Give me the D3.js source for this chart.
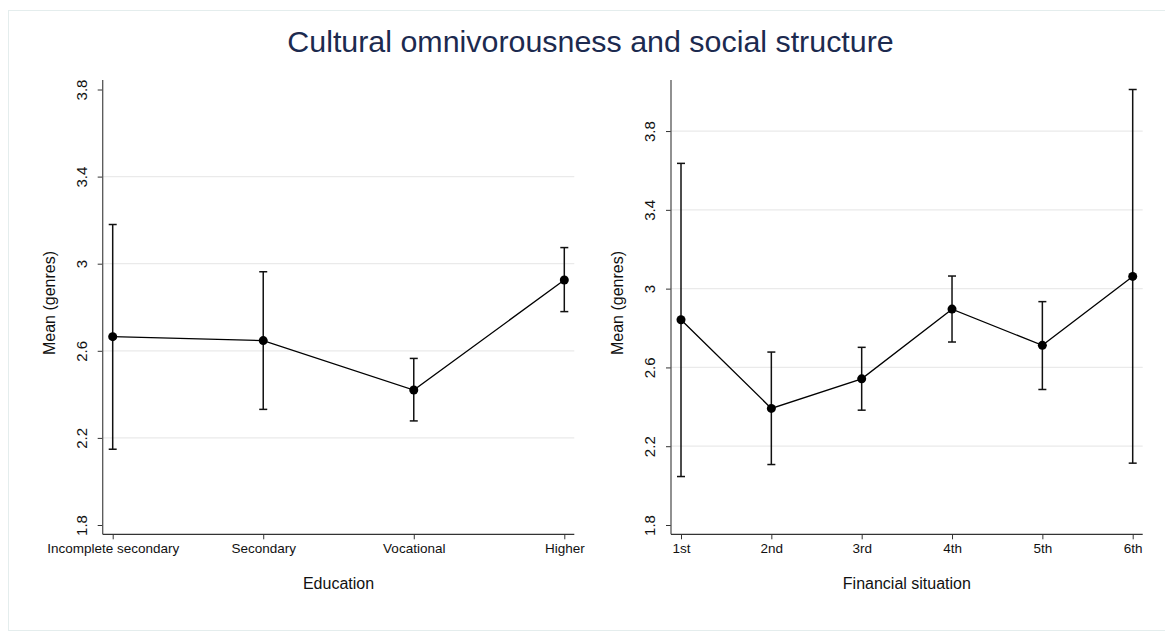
<!DOCTYPE html>
<html>
<head>
<meta charset="utf-8">
<script src="https://cdn.jsdelivr.net/npm/d3@7"></script>
<style>
  html, body { margin: 0; padding: 0; background: #fff; }
  svg { display: block; font-family: "Liberation Sans", Arial, sans-serif; }
</style>
</head>
<body>
<svg id="chart" width="1165" height="638"></svg>
<script>
// Mean number of genres with 95% confidence intervals, by education
const eduCategories = ["Incomplete secondary", "Secondary", "Vocational", "Higher"];
const eduMean  = [2.665, 2.647, 2.420, 2.925];
const eduLower = [2.148, 2.331, 2.278, 2.780];
const eduUpper = [3.180, 2.963, 2.565, 3.074];

// ... and by self-rated financial situation
const finCategories = ["1st", "2nd", "3rd", "4th", "5th", "6th"];
const finMean  = [2.842, 2.392, 2.542, 2.896, 2.712, 3.062];
const finLower = [2.046, 2.107, 2.383, 2.729, 2.488, 2.114];
const finUpper = [3.636, 2.678, 2.702, 3.064, 2.934, 4.011];

const yTicks = [1.8, 2.2, 2.6, 3.0, 3.4, 3.8];

const titleText = "Cultural omnivorousness and social structure";
const yTitle = "Mean (genres)";
const eduTitle = "Education";
const finTitle = "Financial situation";

const svg = d3.select("#chart");

// outer graph region frame
svg.append("rect")
  .attr("x", 8.5).attr("y", 10.5)
  .attr("width", 1170).attr("height", 620)
  .attr("fill", "#fff")
  .attr("stroke", "#e4eded")
  .attr("stroke-width", 1);

svg.append("text")
  .attr("x", 590.5).attr("y", 52)
  .attr("text-anchor", "middle")
  .attr("font-size", 30.4)
  .attr("fill", "#1c2a4f")
  .text(titleText);

function fmt(v) { return d3.format("~g")(v); }

function panel(opt) {
  const { cats, mean, lower, upper, left, right, xTitle } = opt;
  const top = 80, bottom = 534.3;
  const pad = 10;
  const innerTop = 89.5, innerBottom = 525;

  const yMax = Math.max(d3.max(upper), d3.max(yTicks));
  const yMin = Math.min(d3.min(lower), d3.min(yTicks));
  const y = d3.scaleLinear().domain([yMin, yMax]).range([innerBottom, innerTop]);
  const x = d3.scalePoint().domain(cats).range([left + pad, right - pad]);

  const g = svg.append("g");

  // horizontal gridlines at interior ticks
  g.selectAll("line.grid")
    .data(yTicks.filter(t => t > yMin + 1e-9 && t < yMax - 1e-9))
    .join("line")
    .attr("class", "grid")
    .attr("x1", left).attr("x2", right)
    .attr("y1", d => y(d)).attr("y2", d => y(d))
    .attr("stroke", "#eaeaea")
    .attr("stroke-width", 1.3);

  // y axis
  const yAxis = g.append("g")
    .attr("transform", `translate(${left},0)`)
    .call(d3.axisLeft(y).tickValues(yTicks).tickSize(5).tickFormat(fmt));
  yAxis.select(".domain").remove();
  yAxis.selectAll(".tick line").attr("stroke", "#333").attr("stroke-width", 1);
  yAxis.selectAll(".tick text")
    .attr("x", null).attr("dy", null)
    .attr("transform", "translate(-16,0) rotate(-90)")
    .attr("text-anchor", "middle")
    .attr("font-size", 15)
    .attr("font-family", "Liberation Sans, Arial, sans-serif")
    .attr("fill", "#111");
  g.append("line")
    .attr("x1", left).attr("x2", left)
    .attr("y1", top).attr("y2", bottom)
    .attr("stroke", "#555").attr("stroke-width", 1.3);

  // x axis
  const xAxis = g.append("g")
    .attr("transform", `translate(0,${bottom})`)
    .call(d3.axisBottom(x).tickSize(5));
  xAxis.select(".domain").remove();
  xAxis.selectAll(".tick line").attr("stroke", "#333").attr("stroke-width", 1);
  xAxis.selectAll(".tick text")
    .attr("y", 19).attr("dy", null)
    .attr("font-size", 13.5)
    .attr("font-family", "Liberation Sans, Arial, sans-serif")
    .attr("fill", "#111");
  g.append("line")
    .attr("x1", left).attr("x2", right)
    .attr("y1", bottom).attr("y2", bottom)
    .attr("stroke", "#333").attr("stroke-width", 1.2);

  // axis titles
  g.append("text")
    .attr("transform", `translate(${left - 48},303) rotate(-90)`)
    .attr("text-anchor", "middle")
    .attr("font-size", 16)
    .attr("fill", "#111")
    .text(yTitle);
  g.append("text")
    .attr("x", (left + right) / 2).attr("y", 589)
    .attr("text-anchor", "middle")
    .attr("font-size", 16)
    .attr("fill", "#111")
    .text(xTitle);

  const rows = cats.map((c, i) => ({ c, m: mean[i], lo: lower[i], hi: upper[i] }));

  // confidence intervals
  const ci = g.append("g").attr("stroke", "#111").attr("stroke-width", 1.5).attr("fill", "none");
  ci.selectAll("line.v").data(rows).join("line")
    .attr("x1", d => x(d.c)).attr("x2", d => x(d.c))
    .attr("y1", d => y(d.lo)).attr("y2", d => y(d.hi));
  ci.selectAll("line.capHi").data(rows).join("line")
    .attr("x1", d => x(d.c) - 4).attr("x2", d => x(d.c) + 4)
    .attr("y1", d => y(d.hi)).attr("y2", d => y(d.hi));
  ci.selectAll("line.capLo").data(rows).join("line")
    .attr("class", "capLo")
    .attr("x1", d => x(d.c) - 4).attr("x2", d => x(d.c) + 4)
    .attr("y1", d => y(d.lo)).attr("y2", d => y(d.lo));

  // connecting line through means
  g.append("path")
    .datum(rows)
    .attr("fill", "none")
    .attr("stroke", "#000")
    .attr("stroke-width", 1.3)
    .attr("d", d3.line().x(d => x(d.c)).y(d => y(d.m)));

  g.selectAll("circle.pt").data(rows).join("circle")
    .attr("cx", d => x(d.c)).attr("cy", d => y(d.m))
    .attr("r", 4.5)
    .attr("fill", "#000");
}

panel({ cats: eduCategories, mean: eduMean, lower: eduLower, upper: eduUpper,
        left: 102.7, right: 574.3, xTitle: eduTitle });
panel({ cats: finCategories, mean: finMean, lower: finLower, upper: finUpper,
        left: 671, right: 1142.7, xTitle: finTitle });
</script>
</body>
</html>
